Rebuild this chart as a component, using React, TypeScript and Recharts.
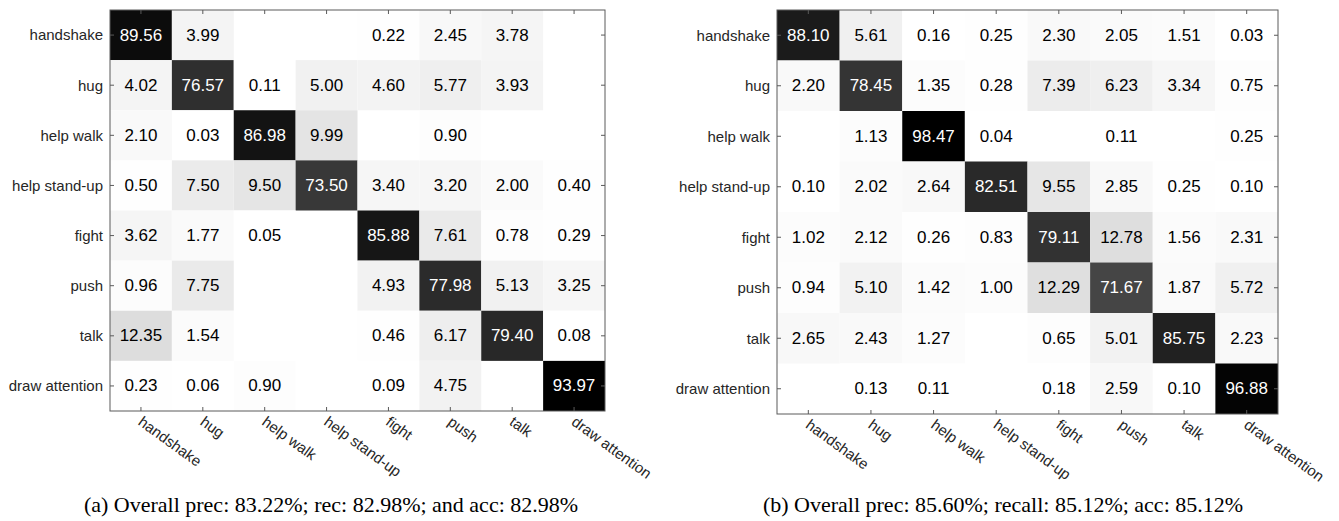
import React from 'react'
import { ScatterChart, Scatter, XAxis, YAxis } from 'recharts'

const CATEGORIES = ['handshake', 'hug', 'help walk', 'help stand-up', 'fight', 'push', 'talk', 'draw attention']
const TICKS = [0, 1, 2, 3, 4, 5, 6, 7]

// rows = true class, columns = predicted class (null = empty cell)
const MATRIX_A = [
  [89.56, 3.99, null, null, 0.22, 2.45, 3.78, null],
  [4.02, 76.57, 0.11, 5.0, 4.6, 5.77, 3.93, null],
  [2.1, 0.03, 86.98, 9.99, null, 0.9, null, null],
  [0.5, 7.5, 9.5, 73.5, 3.4, 3.2, 2.0, 0.4],
  [3.62, 1.77, 0.05, null, 85.88, 7.61, 0.78, 0.29],
  [0.96, 7.75, null, null, 4.93, 77.98, 5.13, 3.25],
  [12.35, 1.54, null, null, 0.46, 6.17, 79.4, 0.08],
  [0.23, 0.06, 0.9, null, 0.09, 4.75, null, 93.97],
]

const MATRIX_B = [
  [88.1, 5.61, 0.16, 0.25, 2.3, 2.05, 1.51, 0.03],
  [2.2, 78.45, 1.35, 0.28, 7.39, 6.23, 3.34, 0.75],
  [null, 1.13, 98.47, 0.04, null, 0.11, null, 0.25],
  [0.1, 2.02, 2.64, 82.51, 9.55, 2.85, 0.25, 0.1],
  [1.02, 2.12, 0.26, 0.83, 79.11, 12.78, 1.56, 2.31],
  [0.94, 5.1, 1.42, 1.0, 12.29, 71.67, 1.87, 5.72],
  [2.65, 2.43, 1.27, null, 0.65, 5.01, 85.75, 2.23],
  [null, 0.13, 0.11, null, 0.18, 2.59, 0.1, 96.88],
]

const CAPTION_A = '(a) Overall prec: 83.22%; rec: 82.98%; and acc: 82.98%'
const CAPTION_B = '(b) Overall prec: 85.60%; recall: 85.12%; acc: 85.12%'

const SANS = '"Liberation Sans", Arial, sans-serif'
const AXIS_COLOR = '#5a5a5a'
const LABEL_COLOR = '#262626'
const LO = -0.5
const HI = 7.5

function toPoints(m) {
  const pts = []
  m.forEach((row, i) => row.forEach((v, j) => { if (v != null) pts.push({ x: j, y: i, v }) }))
  return pts
}

// frame: box corner + inward tick marks on all four sides
const FRAME = [
  { x: LO, y: LO, side: 'box' },
  ...TICKS.flatMap((t) => [
    { x: t, y: HI, side: 'b' },
    { x: t, y: LO, side: 't' },
    { x: LO, y: t, side: 'l' },
    { x: HI, y: t, side: 'r' },
  ]),
]

function XTick({ x, y, payload }) {
  return (
    <g transform={`translate(${x},${y})`}>
      <text x={0} y={-5} transform="rotate(36)" textAnchor="start" dominantBaseline="hanging"
        fontSize={15} fontFamily={SANS} fill={LABEL_COLOR}>
        {CATEGORIES[payload.value]}
      </text>
    </g>
  )
}

function Heatmap({ matrix, width, height, margin, yWidth, xHeight }) {
  const data = toPoints(matrix)
  const vmax = Math.max(...data.map(d => d.v))
  const cellW = (width - margin.left - margin.right - yWidth) / 8
  const cellH = (height - margin.top - margin.bottom - xHeight) / 8

  const Cell = (props) => {
    const { cx, cy, payload } = props
    const g = Math.round(255 * (1 - payload.v / vmax))
    const fill = `rgb(${g},${g},${g})`
    return (
      <g>
        <rect x={cx - cellW / 2} y={cy - cellH / 2} width={cellW} height={cellH} fill={fill} />
        <text x={cx} y={cy} textAnchor="middle" dominantBaseline="central" fontSize={17}
          fontFamily={SANS} fill={payload.v > 50 ? '#ffffff' : '#000000'}>
          {payload.v.toFixed(2)}
        </text>
      </g>
    )
  }

  const Frame = (props) => {
    const { cx, cy, payload } = props
    const L = 4
    if (payload.side === 'box') {
      return <rect x={cx} y={cy} width={cellW * 8} height={cellH * 8} fill="none" stroke={AXIS_COLOR} strokeWidth={1} />
    }
    const d = {
      b: [0, -L], t: [0, L], l: [L, 0], r: [-L, 0],
    }[payload.side]
    return <line x1={cx} y1={cy} x2={cx + d[0]} y2={cy + d[1]} stroke={AXIS_COLOR} strokeWidth={1} />
  }

  return (
    <ScatterChart width={width} height={height} margin={margin} style={{ overflow: 'visible' }}>
      <XAxis xAxisId="b" type="number" dataKey="x" domain={[LO, HI]} ticks={TICKS} interval={0}
        height={xHeight} tick={<XTick />} tickLine={false} axisLine={false} />
      <YAxis yAxisId="l" type="number" dataKey="y" domain={[LO, HI]} ticks={TICKS} interval={0} reversed
        width={yWidth} tickFormatter={(i) => CATEGORIES[i]} tickLine={false} axisLine={false} tickMargin={1}
        tick={{ fontSize: 15, fontFamily: SANS, fill: LABEL_COLOR }} />
      <Scatter data={data} xAxisId="b" yAxisId="l" shape={Cell} isAnimationActive={false} />
      <Scatter data={FRAME} xAxisId="b" yAxisId="l" shape={Frame} isAnimationActive={false} />
    </ScatterChart>
  )
}

export default function App() {
  const captionStyle = {
    position: 'absolute', top: 492, fontFamily: '"Liberation Serif", "Times New Roman", serif',
    fontSize: 22, lineHeight: '26px', color: '#000', textAlign: 'center', whiteSpace: 'nowrap',
  }
  return (
    <div style={{ position: 'absolute', left: 0, top: 0, width: 1339, height: 521, background: '#fff', overflow: 'hidden' }}>
      <div style={{ position: 'absolute', left: 0, top: 0 }}>
        <Heatmap matrix={MATRIX_A} width={660} height={521}
          margin={{ top: 10, right: 55, bottom: 50, left: 10 }} yWidth={100} xHeight={60} />
      </div>
      <div style={{ position: 'absolute', left: 670, top: 0 }}>
        <Heatmap matrix={MATRIX_B} width={669} height={521}
          margin={{ top: 10, right: 61, bottom: 47, left: 7 }} yWidth={100} xHeight={60} />
      </div>
      <div style={{ ...captionStyle, left: 0, width: 662 }}>{CAPTION_A}</div>
      <div style={{ ...captionStyle, left: 670, width: 666 }}>{CAPTION_B}</div>
    </div>
  )
}
